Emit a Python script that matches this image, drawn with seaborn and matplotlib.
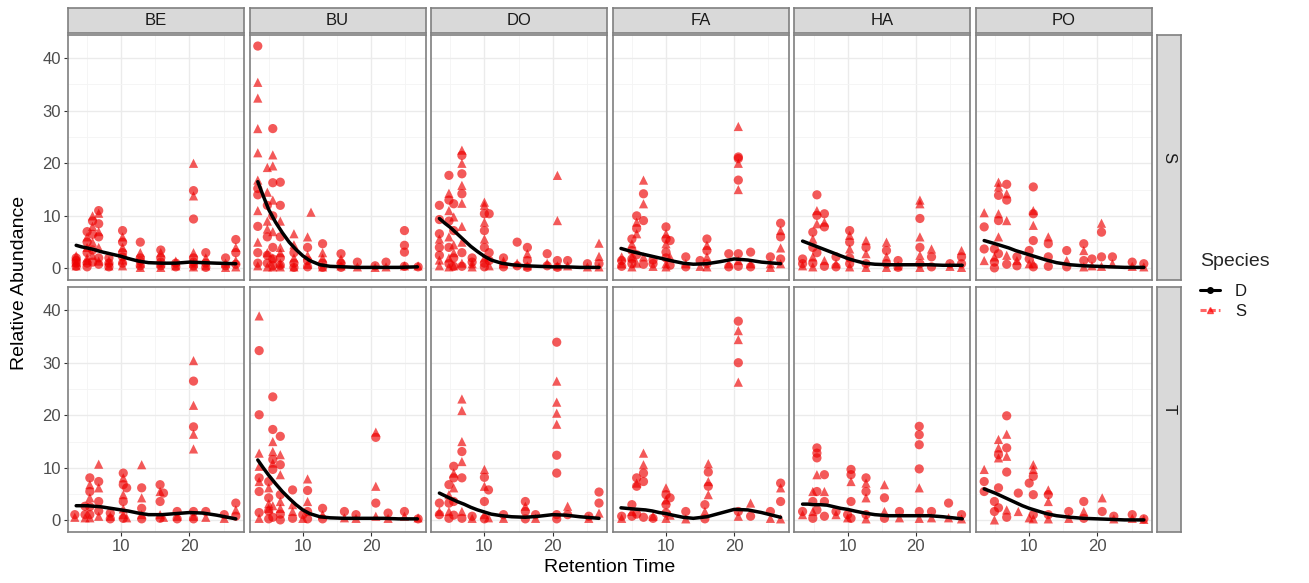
import matplotlib
matplotlib.use("Agg")
import matplotlib.pyplot as plt
from matplotlib.lines import Line2D
from matplotlib.ticker import FixedLocator
import seaborn as sns
import pandas as pd

# facets
families = ["BE", "BU", "DO", "FA", "HA", "PO"]
types = ["S", "T"]

# each entry: (retention time, circle values, triangle values)
BE_S = [(3.4, [1.0, 1.5, 2.0, 0.4], [0.5, 1.2, 2.4]), (5.0, [3.0, 5.0, 7.0, 1.0, 0.3], [4.0, 6.0, 2.0, 1.5]),
        (5.8, [9.0, 6.5, 3.5, 1.2], [10.0, 8.0, 5.0, 2.5]), (6.7, [11.0, 8.5, 6.0, 2.0, 0.8], [10.5, 7.0, 4.0, 1.4]),
        (8.2, [1.0, 2.0, 0.3], [0.5, 1.5]), (10.2, [7.2, 5.0, 3.0, 1.0, 2.2], [6.0, 4.0, 0.5, 1.6]),
        (12.8, [5.0, 2.0, 0.5, 1.4], [3.0, 1.0, 0.2]), (15.8, [3.5, 2.0, 0.5, 1.2], [3.0, 1.0, 0.2]),
        (18.0, [1.0, 0.3], [0.5, 1.4]), (20.6, [14.8, 9.4, 2.0, 0.5, 1.2], [20.0, 13.8, 3.0, 1.0, 0.3]),
        (22.4, [3.0, 1.0, 0.2], [2.0, 0.5]), (25.3, [2.0, 0.5], [1.0, 0.2]), (26.8, [5.5, 3.0, 0.8], [4.0, 1.5, 0.3])]
BU_S = [(3.4, [42.3, 15.2, 14.0, 8.0, 3.0, 1.0], [35.4, 32.4, 26.6, 22.0, 16.8, 11.0, 5.0, 0.5]),
        (4.8, [12.0, 6.0, 1.0, 2.5], [19.2, 14.5, 9.0, 3.0, 0.3, 7.5]),
        (5.6, [26.6, 16.3, 10.0, 4.0, 0.5, 1.8], [21.6, 19.5, 13.0, 7.0, 2.0, 0.3]),
        (6.7, [16.4, 12.0, 6.0, 2.0, 0.6], [9.0, 4.0, 1.0, 0.3, 3.0]), (8.7, [3.0, 1.0, 0.2], [6.6, 2.0, 0.3, 4.5]),
        (10.7, [4.0, 1.5, 0.3], [6.0, 2.5, 0.8]), (11.2, [], [10.7]), (12.9, [4.7, 1.0, 0.2], [2.0, 0.3, 3.0]),
        (15.6, [2.8, 1.0, 0.2], [0.5, 1.8]), (18.0, [1.2], [0.3]), (20.6, [0.5], [0.2]),
        (22.2, [1.2], [0.3]), (24.9, [7.2, 4.4, 3.1, 0.4], [0.5]), (26.9, [0.3], [0.5])]
DO_S = [(3.4, [12.0, 9.3, 6.6, 4.0, 2.5], [5.6, 1.6, 0.5]), (4.8, [17.7, 13.0, 9.0, 4.0, 0.9], [14.3, 11.0, 6.0, 2.0, 0.3]),
        (5.5, [12.3, 7.2, 2.0, 0.4], [9.8, 4.5, 0.5, 3.0]),
        (6.7, [21.5, 18.0, 14.2, 3.0, 0.4], [22.5, 20.0, 15.8, 12.4, 8.0, 5.0, 1.0]),
        (8.2, [2.0, 1.2], [0.9, 0.3]), (10.0, [10.4, 7.2, 4.0, 1.0, 0.3], [12.6, 12.0, 8.8, 5.6, 2.0]),
        (10.7, [10.4, 3.0, 1.5], [0.5]), (12.8, [2.0, 0.3], [0.9, 1.4]), (14.8, [5.0, 0.5], [1.0]),
        (16.3, [4.0, 1.5, 0.2], [2.8, 0.5]), (19.2, [2.8, 0.5], [1.0]), (20.7, [1.5, 0.2], [17.7, 9.1, 0.5]),
        (22.2, [1.5], [0.5]), (25.1, [0.9], [0.3]), (26.8, [0.9], [4.8, 2.3, 0.3])]
FA_S = [(3.5, [1.5, 0.4], [0.9, 2.2]), (5.0, [5.6, 3.4, 0.9, 1.8], [4.7, 2.2, 0.3]), (5.7, [10.0, 7.6, 2.6], [8.8, 6.6, 1.0]),
        (6.7, [14.2, 9.1, 0.8], [16.8, 12.3, 2.2]), (8.1, [0.9, 1.6], [0.4]), (10.0, [7.9, 5.6, 3.1, 2.0], [6.6, 4.7, 0.9, 0.3]),
        (10.6, [5.3, 0.6], [2.2]), (12.9, [2.2, 0.3], [0.9]), (15.0, [1.5], [0.4]), (16.0, [5.6, 3.4, 0.9], [4.4, 2.2, 0.3]),
        (19.2, [2.8, 0.3], [0.9]), (20.6, [21.2, 20.9, 16.8, 2.8, 0.4], [27.0, 20.0, 15.0, 1.5]),
        (22.4, [3.1, 0.3], [0.9]), (25.3, [2.2], [0.9, 0.2]), (26.8, [8.6, 6.0, 1.8], [7.2, 3.9, 0.9])]
HA_S = [(3.4, [1.8, 0.9], [0.5]), (4.9, [6.9, 4.0, 1.0], [5.6, 2.2, 0.3]), (5.5, [14.0, 10.1, 3.0], [11.0, 8.5]),
        (6.6, [10.4, 7.9, 0.4], [8.8, 1.5]), (8.3, [2.2, 0.3], [0.9]), (10.3, [7.2, 5.0, 0.9, 2.0], [6.3, 3.7, 0.3]),
        (12.7, [4.0, 0.9], [5.3, 2.8, 0.2]), (15.7, [3.4, 0.9], [5.0, 2.2, 0.2]), (17.4, [1.5, 0.2], [0.5]),
        (20.6, [9.5, 4.0, 0.9], [13.0, 12.3, 6.0, 2.5, 0.2]), (22.3, [2.2, 0.3], [3.7]), (25.0, [0.9], [0.4]),
        (26.7, [2.2, 0.9], [3.4, 0.2])]
PO_S = [(3.4, [7.9, 3.7], [10.6, 1.5]), (4.9, [3.7, 0.1, 1.2], [2.2]), (5.5, [13.9, 9.1, 2.8], [16.4, 15.5, 10.4, 6.0]),
        (6.7, [16.0, 13.0, 0.8], [14.2, 9.1, 2.5]), (8.2, [2.2, 0.5], [1.5]), (10.0, [3.4, 1.8], [0.9]),
        (10.6, [15.5, 10.4, 5.3, 0.3], [11.0, 8.2, 0.9]), (12.8, [4.7, 2.2, 0.4], [6.0]), (15.5, [3.4, 0.3], [1.5]),
        (18.0, [4.7, 1.5], [3.4, 0.3]), (19.2, [1.8], [0.5]), (20.6, [6.9, 2.2], [8.6, 0.4]),
        (22.2, [2.2], [0.9]), (25.1, [1.2], [0.4]), (26.8, [0.9], [0.3])]
BE_T = [(3.2, [1.1], [0.6]), (4.7, [2.7, 1.1], [0.5]), (5.4, [8.1, 5.5, 1.1, 2.6], [6.8, 4.3, 0.5]),
        (6.7, [7.4, 3.6, 1.8], [10.7, 6.2, 0.8]), (8.4, [1.4, 0.3], [0.8]), (10.3, [9.0, 6.8, 3.6, 0.4], [8.1, 4.9, 1.1, 2.2]),
        (10.8, [6.2], [0.5]), (13.0, [6.2, 2.3, 0.3], [10.6, 4.3, 1.1]), (15.7, [6.8, 3.6, 0.4], [5.5, 1.1]),
        (16.2, [5.2], [0.6]), (18.2, [1.7, 0.3], [0.8]), (20.6, [26.5, 17.8, 1.7, 0.3], [30.4, 21.9, 16.4, 13.6, 0.8]),
        (22.4, [1.7], [0.6]), (25.1, [1.1], [0.4]), (26.8, [3.3, 0.8], [2.0])]
BU_T = [(3.6, [32.3, 20.1, 8.1, 5.5, 1.5], [38.9, 12.8, 10.3, 7.4, 0.4]), (5.0, [7.4, 4.3, 0.3, 1.8], [6.2, 2.3, 3.2]),
        (5.6, [23.5, 17.3, 11.6, 9.7, 0.6], [15.0, 13.1, 10.9, 2.8]), (6.7, [16.0, 10.6, 4.9, 0.1, 1.2], [12.5, 8.7, 2.3, 3.6]),
        (8.5, [5.8, 0.4], [1.7, 3.0]), (10.0, [1.1], [0.4]), (10.7, [5.7, 1.7, 0.3], [7.9, 3.6]), (12.9, [2.3, 0.3], [1.1]),
        (16.1, [1.7], [0.5]), (17.8, [1.1], [0.4]), (20.7, [15.8, 3.3], [16.8, 6.5, 0.8]),
        (22.5, [1.4], [0.4]), (24.9, [1.7], [0.8]), (26.9, [0.3], [0.5])]
DO_T = [(3.4, [3.3, 1.1], [1.7]), (4.8, [6.8, 3.3, 0.4], [4.9, 1.7]), (5.5, [10.3, 8.1, 3.6, 1.0], [9.0, 6.2]),
        (6.7, [13.1, 8.1, 0.4], [23.1, 20.9, 15.0, 11.2, 1.7]), (8.2, [0.8], [0.4]), (10.0, [8.2, 3.6, 0.3], [9.7, 6.5, 1.1]),
        (10.6, [5.8], [0.5]), (12.8, [1.1], [0.4]), (16.0, [3.6, 1.7, 0.3], [2.7]), (17.5, [1.1], [0.4]),
        (20.6, [33.9, 12.4, 9.0, 1.1, 0.3], [26.5, 22.5, 20.4, 18.3]), (22.2, [1.1], [2.7]),
        (25.3, [0.8], [0.4]), (26.8, [5.4, 3.3], [1.4])]
FA_T = [(3.5, [0.8], [0.4]), (5.0, [3.0, 0.8], [1.7]), (5.7, [8.1, 6.5, 1.2], [7.1]), (6.7, [9.0, 7.4, 0.6], [12.8, 10.6]),
        (8.1, [0.4], [0.8]), (10.0, [4.9, 3.0, 1.4], [6.2, 3.9, 0.4]), (10.6, [4.3], [1.0]), (12.9, [1.7], [0.3]),
        (15.7, [3.0, 0.3], [1.7]), (16.2, [9.2, 6.5], [10.8, 7.4, 4.9]),
        (20.6, [37.9, 30.0, 1.7], [36.1, 34.4, 26.3, 0.8]), (22.4, [0.8], [3.3]), (25.3, [1.7], [0.4]),
        (26.8, [7.1, 3.6], [6.2, 0.3])]
HA_T = [(3.4, [1.7], [1.1]), (4.9, [3.6, 0.4], [5.5, 1.7]), (5.5, [13.8, 12.8, 11.9, 5.5, 2.0], [8.7]),
        (6.6, [8.7, 3.6, 0.8], [5.5]), (8.3, [1.7], [1.1]), (10.0, [1.1], [0.5]), (10.5, [9.7, 8.7, 3.6, 0.4], [7.4]),
        (12.7, [8.1, 5.5, 1.1], [7.1, 4.3, 0.3]), (15.4, [4.3, 0.4], [6.8, 1.7]), (17.6, [1.7], [0.5]),
        (20.5, [17.9, 16.3, 14.4, 9.8, 1.7], [6.2, 0.4]), (22.3, [1.7], [0.5]), (24.8, [3.3], [0.5]),
        (26.7, [1.1], [0.3])]
PO_T = [(3.4, [7.4, 5.5], [9.7]), (4.9, [3.6, 1.7], [0.1]), (5.5, [12.5, 6.2, 2.4], [15.4, 13.8, 11.9]),
        (6.7, [19.9, 13.8, 9.2, 0.6], [16.4, 12.2, 2.0]), (8.4, [5.2], [1.7]), (10.0, [7.1], [0.5]),
        (10.6, [8.4, 4.9, 1.1], [10.6, 9.7, 0.3]), (12.8, [4.9, 1.1], [5.8, 3.6, 0.3]), (15.8, [1.7], [0.4]),
        (18.0, [3.6, 0.4], [1.7]), (20.7, [1.7], [4.3]), (22.4, [0.8], [0.3]), (25.1, [1.1], [0.4]),
        (26.8, [0.3], [0.2])]

# smoothed trend
FIT_RT = [3.4, 4.2, 5.0, 6.0, 7.0, 8.0, 9.0, 10.0, 11.0, 12.5, 14.0, 16.0, 18.0, 20.0, 22.0, 24.0, 26.8]
FIT = {
    ("BE", "S"): [4.4, 4.1, 3.9, 3.6, 3.2, 2.9, 2.6, 2.3, 1.9, 1.4, 1.1, 1.0, 1.0, 1.2, 1.1, 1.0, 0.9],
    ("BU", "S"): [16.5, 13.8, 11.2, 8.8, 6.8, 5.0, 3.6, 2.4, 1.5, 0.7, 0.4, 0.3, 0.2, 0.2, 0.2, 0.2, 0.3],
    ("DO", "S"): [9.5, 8.6, 7.8, 6.6, 5.4, 4.2, 3.2, 2.3, 1.6, 1.0, 0.7, 0.5, 0.4, 0.3, 0.3, 0.2, 0.2],
    ("FA", "S"): [3.8, 3.5, 3.2, 2.9, 2.6, 2.3, 2.0, 1.7, 1.4, 1.0, 0.8, 0.9, 1.3, 1.8, 1.6, 1.2, 0.9],
    ("HA", "S"): [5.2, 4.8, 4.4, 3.9, 3.4, 2.9, 2.4, 1.9, 1.5, 1.0, 0.8, 0.7, 0.7, 0.7, 0.7, 0.6, 0.6],
    ("PO", "S"): [5.3, 5.0, 4.7, 4.3, 3.9, 3.4, 3.0, 2.6, 2.2, 1.6, 1.1, 0.7, 0.5, 0.4, 0.3, 0.2, 0.2],
    ("BE", "T"): [2.8, 2.8, 2.8, 2.7, 2.6, 2.4, 2.2, 2.0, 1.8, 1.4, 1.1, 1.1, 1.3, 1.5, 1.4, 1.0, 0.3],
    ("BU", "T"): [11.5, 10.0, 8.6, 7.0, 5.5, 4.2, 3.0, 2.0, 1.3, 0.7, 0.5, 0.4, 0.4, 0.4, 0.4, 0.3, 0.3],
    ("DO", "T"): [5.2, 4.7, 4.2, 3.6, 3.1, 2.5, 2.0, 1.6, 1.2, 0.9, 0.7, 0.6, 0.8, 1.1, 1.0, 0.7, 0.4],
    ("FA", "T"): [2.4, 2.3, 2.2, 2.1, 2.0, 1.8, 1.5, 1.3, 1.0, 0.6, 0.4, 0.7, 1.4, 2.1, 2.0, 1.5, 0.6],
    ("HA", "T"): [3.1, 3.1, 3.0, 3.0, 2.9, 2.6, 2.3, 2.1, 1.8, 1.4, 1.1, 0.9, 0.9, 0.9, 0.9, 0.7, 0.3],
    ("PO", "T"): [6.0, 5.6, 5.2, 4.6, 4.0, 3.4, 2.8, 2.3, 1.9, 1.3, 0.9, 0.6, 0.4, 0.3, 0.2, 0.1, 0.1],
}

points = {("BE", "S"): BE_S, ("BU", "S"): BU_S, ("DO", "S"): DO_S, ("FA", "S"): FA_S,
          ("HA", "S"): HA_S, ("PO", "S"): PO_S, ("BE", "T"): BE_T, ("BU", "T"): BU_T,
          ("DO", "T"): DO_T, ("FA", "T"): FA_T, ("HA", "T"): HA_T, ("PO", "T"): PO_T}

rows = []
for (fam, typ), cols in points.items():
    for rt, circ, tri in cols:
        for v in circ:
            rows.append((fam, typ, rt, v, "circle"))
        for v in tri:
            rows.append((fam, typ, rt, v, "triangle"))
df = pd.DataFrame(rows, columns=["family", "type", "rt", "abundance", "shape"])

sns.set_style("white")
plt.rcParams["font.family"] = ["Liberation Sans", "DejaVu Sans"]

W, H = 1309, 583
fig = plt.figure(figsize=(W / 100, H / 100), dpi=100)

left0, pitch, pw = 68, 181.6, 176
row_top = {"S": 35, "T": 287}
ph = 245
grey_txt = "#4d4d4d"
border = "#333333"


def fx(px):
    return px / W


def fy(py):
    return 1 - py / H


def strip_box(rect, label, rot):
    sax = fig.add_axes(rect)
    sax.set_facecolor("#D9D9D9")
    sax.set_xticks([])
    sax.set_yticks([])
    for sp in sax.spines.values():
        sp.set_color("#7f7f7f")
        sp.set_linewidth(1.2)
    sax.text(0.5, 0.5, label, ha="center", va="center", rotation=rot, fontsize=12,
             color="#1a1a1a", transform=sax.transAxes)


for j, fam in enumerate(families):
    for i, typ in enumerate(types):
        l = left0 + j * pitch
        t = row_top[typ]
        ax = fig.add_axes([fx(l), fy(t + ph), pw / W, ph / H])
        ax.set_facecolor("white")
        sub = df[(df.family == fam) & (df.type == typ)]
        sns.scatterplot(data=sub, x="rt", y="abundance", style="shape",
                        markers={"circle": "o", "triangle": "^"}, color="#ee0000",
                        alpha=0.65, s=44, linewidth=0, legend=False, ax=ax, zorder=3)
        sns.lineplot(x=FIT_RT, y=FIT[(fam, typ)], color="black", linewidth=2.5,
                     ax=ax, legend=False, zorder=4)
        ax.set_xlim(2.2, 28.0)
        ax.set_ylim(-2.2, 44.4)
        ax.xaxis.set_major_locator(FixedLocator([10, 20]))
        ax.xaxis.set_minor_locator(FixedLocator([5, 15, 25]))
        ax.yaxis.set_major_locator(FixedLocator([0, 10, 20, 30, 40]))
        ax.yaxis.set_minor_locator(FixedLocator([5, 15, 25, 35]))
        ax.grid(which="major", color="#EBEBEB", linewidth=1.0, zorder=0)
        ax.grid(which="minor", color="#F4F4F4", linewidth=0.6, zorder=0)
        ax.set_axisbelow(True)
        for sp in ax.spines.values():
            sp.set_color("#7f7f7f")
            sp.set_linewidth(1.2)
        ax.tick_params(which="major", length=3, color=border, labelsize=12,
                       labelcolor=grey_txt, pad=2,
                       left=(j == 0), bottom=(i == 1),
                       labelleft=(j == 0), labelbottom=(i == 1))
        ax.tick_params(which="minor", length=0)
        ax.set_xlabel("")
        ax.set_ylabel("")

        if i == 0:
            strip_box([fx(l), fy(33), pw / W, 25 / H], fam, 0)

for typ in types:
    t = row_top[typ]
    strip_box([fx(1157), fy(t + ph), 24 / W, ph / H], typ, 270)

fig.text(fx(610), fy(567), "Retention Time", ha="center", va="center", fontsize=14, color="black")
fig.text(fx(20), fy(283), "Relative Abundance", ha="center", va="center", rotation=90,
         fontsize=14, color="black")

handles = [Line2D([], [], color="black", lw=2.2, marker="o", markersize=4),
           Line2D([], [], color="red", lw=2.2, ls=(0, (2, 1)), marker="^", markersize=4, alpha=0.6)]
leg = fig.legend(handles, ["D", "S"], loc="upper left", bbox_to_anchor=(fx(1190), fy(243)),
                 frameon=False, title="Species", title_fontsize=14, fontsize=12,
                 handlelength=1.2, handletextpad=0.9, labelspacing=0.3, alignment="left",
                 borderaxespad=0.2)
leg._legend_box.sep = 10
for txt in leg.get_texts():
    txt.set_color("#1a1a1a")

fig.savefig("out.png", dpi=100)
